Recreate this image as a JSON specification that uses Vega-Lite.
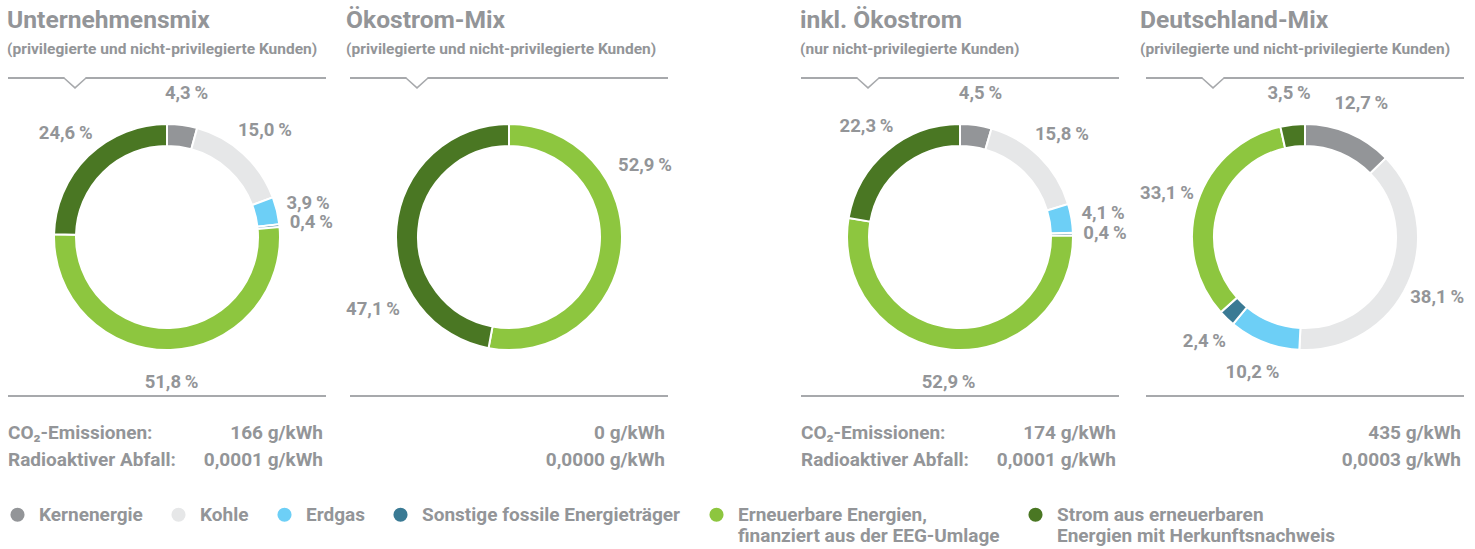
{
  "$schema": "https://vega.github.io/schema/vega-lite/v6.json",
  "padding": {"left": 7, "top": 7, "right": 0, "bottom": 0},
  "config": {
    "view": {"stroke": null},
    "font": "Roboto",
    "title": {"anchor": "start", "font": "Roboto", "fontSize": 24.6, "fontWeight": "bold", "color": "#939598", "subtitleFont": "Roboto", "subtitleFontSize": 15.5, "subtitleFontWeight": "bold", "subtitleColor": "#939598", "subtitlePadding": 8, "offset": 17},
    "legend": {"orient": "bottom", "direction": "horizontal", "symbolType": "circle", "symbolSize": 200, "symbolStrokeWidth": 0, "labelFont": "Roboto", "labelFontSize": 19, "labelFontWeight": "bold", "labelColor": "#939598", "columnPadding": 26, "labelOffset": 12, "labelLimit": 400, "offset": 32}
  },
  "datasets": {
    "mix": [
      {"panel": "A", "idx": 1, "cat": "Kernenergie", "value": 4.3},
      {"panel": "A", "idx": 2, "cat": "Kohle", "value": 15.0},
      {"panel": "A", "idx": 3, "cat": "Erdgas", "value": 3.9},
      {"panel": "A", "idx": 4, "cat": "Sonstige fossile Energieträger", "value": 0.4},
      {"panel": "A", "idx": 5, "cat": "Erneuerbare Energien, finanziert aus der EEG-Umlage", "value": 51.8},
      {"panel": "A", "idx": 6, "cat": "Strom aus erneuerbaren Energien mit Herkunftsnachweis", "value": 24.6},
      {"panel": "B", "idx": 5, "cat": "Erneuerbare Energien, finanziert aus der EEG-Umlage", "value": 52.9},
      {"panel": "B", "idx": 6, "cat": "Strom aus erneuerbaren Energien mit Herkunftsnachweis", "value": 47.1},
      {"panel": "C", "idx": 1, "cat": "Kernenergie", "value": 4.5},
      {"panel": "C", "idx": 2, "cat": "Kohle", "value": 15.8},
      {"panel": "C", "idx": 3, "cat": "Erdgas", "value": 4.1},
      {"panel": "C", "idx": 4, "cat": "Sonstige fossile Energieträger", "value": 0.4},
      {"panel": "C", "idx": 5, "cat": "Erneuerbare Energien, finanziert aus der EEG-Umlage", "value": 52.9},
      {"panel": "C", "idx": 6, "cat": "Strom aus erneuerbaren Energien mit Herkunftsnachweis", "value": 22.3},
      {"panel": "D", "idx": 1, "cat": "Kernenergie", "value": 12.7},
      {"panel": "D", "idx": 2, "cat": "Kohle", "value": 38.1},
      {"panel": "D", "idx": 3, "cat": "Erdgas", "value": 10.2},
      {"panel": "D", "idx": 4, "cat": "Sonstige fossile Energieträger", "value": 2.4},
      {"panel": "D", "idx": 5, "cat": "Erneuerbare Energien, finanziert aus der EEG-Umlage", "value": 33.1},
      {"panel": "D", "idx": 6, "cat": "Strom aus erneuerbaren Energien mit Herkunftsnachweis", "value": 3.5}
    ],
    "stats": [
      {"panel": "A", "key": "co2", "metric": "CO₂-Emissionen:", "amount": "166 g/kWh"},
      {"panel": "A", "key": "rad", "metric": "Radioaktiver Abfall:", "amount": "0,0001 g/kWh"},
      {"panel": "B", "key": "co2", "metric": "", "amount": "0 g/kWh"},
      {"panel": "B", "key": "rad", "metric": "", "amount": "0,0000 g/kWh"},
      {"panel": "C", "key": "co2", "metric": "CO₂-Emissionen:", "amount": "174 g/kWh"},
      {"panel": "C", "key": "rad", "metric": "Radioaktiver Abfall:", "amount": "0,0001 g/kWh"},
      {"panel": "D", "key": "co2", "metric": "", "amount": "435 g/kWh"},
      {"panel": "D", "key": "rad", "metric": "", "amount": "0,0003 g/kWh"}
    ]
  },
  "resolve": {"scale": {"color": "shared"}},
  "spacing": 128,
  "hconcat": [
    {
      "spacing": 13,
      "hconcat": [
        {
          "spacing": 22,
          "vconcat": [
            {
              "width": 318, "height": 318,
              "title": {"text": "Unternehmensmix", "subtitle": "(privilegierte und nicht-privilegierte Kunden)"},
              "layer": [
                {"data": {"name": "mix"}, "transform": [{"filter": "datum.panel == 'A'"}],
                 "mark": {"type": "arc", "outerRadius": 113, "innerRadius": 91, "stroke": "white", "strokeWidth": 2},
                 "encoding": {"theta": {"field": "value", "type": "quantitative", "stack": true}, "order": {"field": "idx", "type": "quantitative"},
                   "color": {"field": "cat", "type": "nominal", "scale": {"domain": ["Kernenergie", "Kohle", "Erdgas", "Sonstige fossile Energieträger", "Erneuerbare Energien, finanziert aus der EEG-Umlage", "Strom aus erneuerbaren Energien mit Herkunftsnachweis"], "range": ["#939598", "#e6e7e8", "#6dcff6", "#3a7a94", "#8dc63f", "#4a7723"]},
                     "legend": {"title": null, "labelExpr": "datum.label == 'Erneuerbare Energien, finanziert aus der EEG-Umlage' ? ['Erneuerbare Energien,', 'finanziert aus der EEG-Umlage'] : datum.label == 'Strom aus erneuerbaren Energien mit Herkunftsnachweis' ? ['Strom aus erneuerbaren', 'Energien mit Herkunftsnachweis'] : [datum.label, ' ']"}}}},
                {"data": {"name": "mix"}, "transform": [{"filter": "datum.panel == 'A'"}, {"calculate": "replace(format(datum.value, '.1f'), '.', ',') + '\u2009%'", "as": "label"}],
                 "mark": {"type": "text", "radius": 145, "fontSize": 18.5, "fontWeight": "bold", "color": "#939598"},
                 "encoding": {"theta": {"field": "value", "type": "quantitative", "stack": true}, "order": {"field": "idx", "type": "quantitative"}, "text": {"field": "label"}}},
                {"data": {"values": [{}]}, "mark": {"type": "rule", "color": "#a7a9ac", "strokeWidth": 1.8}, "encoding": {"x": {"value": 0}, "x2": {"value": "width"}, "y": {"value": 0}}},
                {"data": {"values": [{}]}, "mark": {"type": "rule", "color": "#a7a9ac", "strokeWidth": 1.8}, "encoding": {"x": {"value": 0}, "x2": {"value": "width"}, "y": {"value": "height"}}},
                {"data": {"values": [{}]}, "mark": {"type": "point", "shape": "M-0.95,-0.12L0.95,-0.12L0.95,0.12L-0.95,0.12Z", "filled": true, "fill": "white", "strokeWidth": 0, "opacity": 1, "size": 484}, "encoding": {"x": {"value": 67}, "y": {"value": 0}}},
                {"data": {"values": [{}]}, "mark": {"type": "point", "shape": "M-1,0L0,0.9L1,0", "filled": false, "stroke": "#a7a9ac", "strokeWidth": 1.5, "opacity": 1, "size": 484}, "encoding": {"x": {"value": 67}, "y": {"value": 0}}}
              ]
            },
            {
              "width": 318, "height": 54,
              "data": {"name": "stats"}, "transform": [{"filter": "datum.panel == 'A'"}],
              "layer": [
                {"mark": {"type": "text", "align": "left", "fontSize": 19, "fontWeight": "bold", "color": "#939598"}, "encoding": {"y": {"field": "key", "type": "nominal", "sort": ["co2", "rad"], "axis": null}, "x": {"value": 0}, "text": {"field": "metric"}}},
                {"mark": {"type": "text", "align": "right", "fontSize": 19, "fontWeight": "bold", "color": "#939598"}, "encoding": {"y": {"field": "key", "type": "nominal", "sort": ["co2", "rad"], "axis": null}, "x": {"value": 315}, "text": {"field": "amount"}}}
              ]
            }
          ]
        },
        {
          "spacing": 22,
          "vconcat": [
            {
              "width": 318, "height": 318,
              "title": {"text": "Ökostrom-Mix", "subtitle": "(privilegierte und nicht-privilegierte Kunden)"},
              "resolve": {"scale": {"theta": "independent"}},
              "layer": [
                {"data": {"name": "mix"}, "transform": [{"filter": "datum.panel == 'B'"}],
                 "mark": {"type": "arc", "outerRadius": 113, "innerRadius": 91, "stroke": "white", "strokeWidth": 2},
                 "encoding": {"theta": {"field": "value", "type": "quantitative", "stack": true}, "order": {"field": "idx", "type": "quantitative"},
                   "color": {"field": "cat", "type": "nominal", "scale": {"domain": ["Kernenergie", "Kohle", "Erdgas", "Sonstige fossile Energieträger", "Erneuerbare Energien, finanziert aus der EEG-Umlage", "Strom aus erneuerbaren Energien mit Herkunftsnachweis"], "range": ["#939598", "#e6e7e8", "#6dcff6", "#3a7a94", "#8dc63f", "#4a7723"]}}}},
                {"data": {"name": "mix"}, "transform": [{"filter": "datum.panel == 'B'"}, {"calculate": "replace(format(datum.value, '.1f'), '.', ',') + '\u2009%'", "as": "label"}],
                 "mark": {"type": "text", "radius": 154, "fontSize": 18.5, "fontWeight": "bold", "color": "#939598"},
                 "encoding": {"theta": {"field": "value", "type": "quantitative", "stack": true, "scale": {"range": [-0.58, 5.7032]}}, "order": {"field": "idx", "type": "quantitative"}, "text": {"field": "label"}}},
                {"data": {"values": [{}]}, "mark": {"type": "rule", "color": "#a7a9ac", "strokeWidth": 1.8}, "encoding": {"x": {"value": 0}, "x2": {"value": "width"}, "y": {"value": 0}}},
                {"data": {"values": [{}]}, "mark": {"type": "rule", "color": "#a7a9ac", "strokeWidth": 1.8}, "encoding": {"x": {"value": 0}, "x2": {"value": "width"}, "y": {"value": "height"}}},
                {"data": {"values": [{}]}, "mark": {"type": "point", "shape": "M-0.95,-0.12L0.95,-0.12L0.95,0.12L-0.95,0.12Z", "filled": true, "fill": "white", "strokeWidth": 0, "opacity": 1, "size": 484}, "encoding": {"x": {"value": 67}, "y": {"value": 0}}},
                {"data": {"values": [{}]}, "mark": {"type": "point", "shape": "M-1,0L0,0.9L1,0", "filled": false, "stroke": "#a7a9ac", "strokeWidth": 1.5, "opacity": 1, "size": 484}, "encoding": {"x": {"value": 67}, "y": {"value": 0}}}
              ]
            },
            {
              "width": 318, "height": 54,
              "data": {"name": "stats"}, "transform": [{"filter": "datum.panel == 'B'"}],
              "layer": [
                {"mark": {"type": "text", "align": "right", "fontSize": 19, "fontWeight": "bold", "color": "#939598"}, "encoding": {"y": {"field": "key", "type": "nominal", "sort": ["co2", "rad"], "axis": null}, "x": {"value": 315}, "text": {"field": "amount"}}}
              ]
            }
          ]
        }
      ]
    },
    {
      "spacing": 13,
      "hconcat": [
        {
          "spacing": 22,
          "vconcat": [
            {
              "width": 318, "height": 318,
              "title": {"text": "inkl. Ökostrom", "subtitle": "(nur nicht-privilegierte Kunden)"},
              "layer": [
                {"data": {"name": "mix"}, "transform": [{"filter": "datum.panel == 'C'"}],
                 "mark": {"type": "arc", "outerRadius": 113, "innerRadius": 91, "stroke": "white", "strokeWidth": 2},
                 "encoding": {"theta": {"field": "value", "type": "quantitative", "stack": true}, "order": {"field": "idx", "type": "quantitative"},
                   "color": {"field": "cat", "type": "nominal", "scale": {"domain": ["Kernenergie", "Kohle", "Erdgas", "Sonstige fossile Energieträger", "Erneuerbare Energien, finanziert aus der EEG-Umlage", "Strom aus erneuerbaren Energien mit Herkunftsnachweis"], "range": ["#939598", "#e6e7e8", "#6dcff6", "#3a7a94", "#8dc63f", "#4a7723"]}}}},
                {"data": {"name": "mix"}, "transform": [{"filter": "datum.panel == 'C'"}, {"calculate": "replace(format(datum.value, '.1f'), '.', ',') + '\u2009%'", "as": "label"}],
                 "mark": {"type": "text", "radius": 145, "fontSize": 18.5, "fontWeight": "bold", "color": "#939598"},
                 "encoding": {"theta": {"field": "value", "type": "quantitative", "stack": true}, "order": {"field": "idx", "type": "quantitative"}, "text": {"field": "label"}}},
                {"data": {"values": [{}]}, "mark": {"type": "rule", "color": "#a7a9ac", "strokeWidth": 1.8}, "encoding": {"x": {"value": 0}, "x2": {"value": "width"}, "y": {"value": 0}}},
                {"data": {"values": [{}]}, "mark": {"type": "rule", "color": "#a7a9ac", "strokeWidth": 1.8}, "encoding": {"x": {"value": 0}, "x2": {"value": "width"}, "y": {"value": "height"}}},
                {"data": {"values": [{}]}, "mark": {"type": "point", "shape": "M-0.95,-0.12L0.95,-0.12L0.95,0.12L-0.95,0.12Z", "filled": true, "fill": "white", "strokeWidth": 0, "opacity": 1, "size": 484}, "encoding": {"x": {"value": 67}, "y": {"value": 0}}},
                {"data": {"values": [{}]}, "mark": {"type": "point", "shape": "M-1,0L0,0.9L1,0", "filled": false, "stroke": "#a7a9ac", "strokeWidth": 1.5, "opacity": 1, "size": 484}, "encoding": {"x": {"value": 67}, "y": {"value": 0}}}
              ]
            },
            {
              "width": 318, "height": 54,
              "data": {"name": "stats"}, "transform": [{"filter": "datum.panel == 'C'"}],
              "layer": [
                {"mark": {"type": "text", "align": "left", "fontSize": 19, "fontWeight": "bold", "color": "#939598"}, "encoding": {"y": {"field": "key", "type": "nominal", "sort": ["co2", "rad"], "axis": null}, "x": {"value": 0}, "text": {"field": "metric"}}},
                {"mark": {"type": "text", "align": "right", "fontSize": 19, "fontWeight": "bold", "color": "#939598"}, "encoding": {"y": {"field": "key", "type": "nominal", "sort": ["co2", "rad"], "axis": null}, "x": {"value": 315}, "text": {"field": "amount"}}}
              ]
            }
          ]
        },
        {
          "spacing": 22,
          "vconcat": [
            {
              "width": 318, "height": 318,
              "title": {"text": "Deutschland-Mix", "subtitle": "(privilegierte und nicht-privilegierte Kunden)"},
              "layer": [
                {"data": {"name": "mix"}, "transform": [{"filter": "datum.panel == 'D'"}],
                 "mark": {"type": "arc", "outerRadius": 113, "innerRadius": 91, "stroke": "white", "strokeWidth": 2},
                 "encoding": {"theta": {"field": "value", "type": "quantitative", "stack": true}, "order": {"field": "idx", "type": "quantitative"},
                   "color": {"field": "cat", "type": "nominal", "scale": {"domain": ["Kernenergie", "Kohle", "Erdgas", "Sonstige fossile Energieträger", "Erneuerbare Energien, finanziert aus der EEG-Umlage", "Strom aus erneuerbaren Energien mit Herkunftsnachweis"], "range": ["#939598", "#e6e7e8", "#6dcff6", "#3a7a94", "#8dc63f", "#4a7723"]}}}},
                {"data": {"name": "mix"}, "transform": [{"filter": "datum.panel == 'D'"}, {"calculate": "replace(format(datum.value, '.1f'), '.', ',') + '\u2009%'", "as": "label"}],
                 "mark": {"type": "text", "radius": 145, "fontSize": 18.5, "fontWeight": "bold", "color": "#939598"},
                 "encoding": {"theta": {"field": "value", "type": "quantitative", "stack": true}, "order": {"field": "idx", "type": "quantitative"}, "text": {"field": "label"}}},
                {"data": {"values": [{}]}, "mark": {"type": "rule", "color": "#a7a9ac", "strokeWidth": 1.8}, "encoding": {"x": {"value": 0}, "x2": {"value": "width"}, "y": {"value": 0}}},
                {"data": {"values": [{}]}, "mark": {"type": "rule", "color": "#a7a9ac", "strokeWidth": 1.8}, "encoding": {"x": {"value": 0}, "x2": {"value": "width"}, "y": {"value": "height"}}},
                {"data": {"values": [{}]}, "mark": {"type": "point", "shape": "M-0.95,-0.12L0.95,-0.12L0.95,0.12L-0.95,0.12Z", "filled": true, "fill": "white", "strokeWidth": 0, "opacity": 1, "size": 484}, "encoding": {"x": {"value": 67}, "y": {"value": 0}}},
                {"data": {"values": [{}]}, "mark": {"type": "point", "shape": "M-1,0L0,0.9L1,0", "filled": false, "stroke": "#a7a9ac", "strokeWidth": 1.5, "opacity": 1, "size": 484}, "encoding": {"x": {"value": 67}, "y": {"value": 0}}}
              ]
            },
            {
              "width": 318, "height": 54,
              "data": {"name": "stats"}, "transform": [{"filter": "datum.panel == 'D'"}],
              "layer": [
                {"mark": {"type": "text", "align": "right", "fontSize": 19, "fontWeight": "bold", "color": "#939598"}, "encoding": {"y": {"field": "key", "type": "nominal", "sort": ["co2", "rad"], "axis": null}, "x": {"value": 315}, "text": {"field": "amount"}}}
              ]
            }
          ]
        }
      ]
    }
  ]
}
